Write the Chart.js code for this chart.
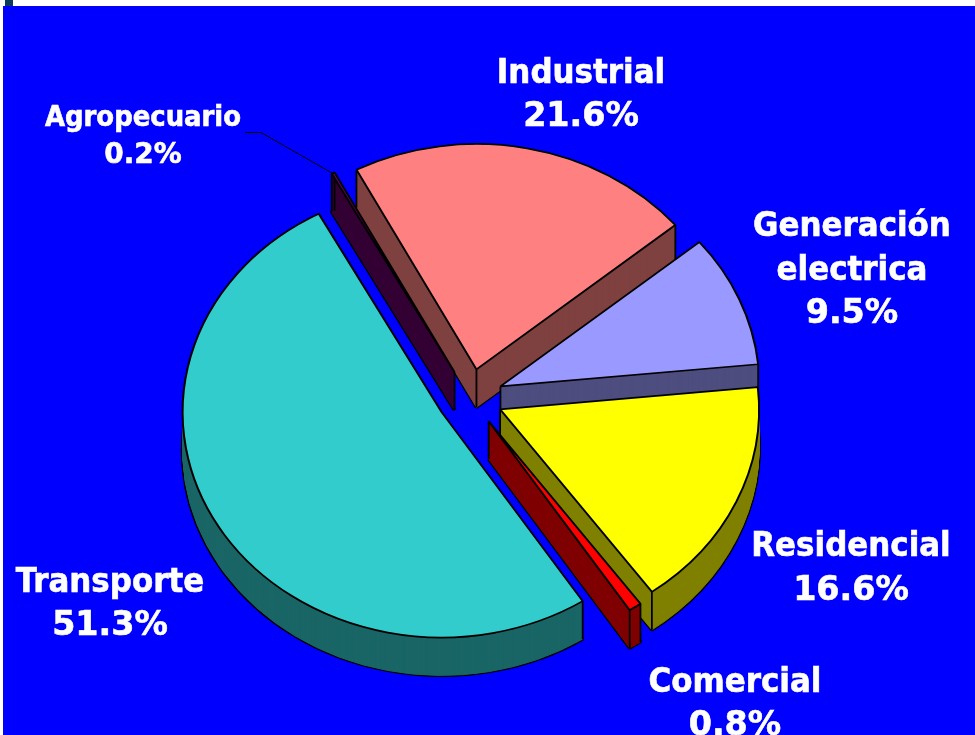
<!DOCTYPE html>
<html>
<head>
<meta charset="utf-8">
<title>Consumo por sector</title>
<script src="https://cdn.jsdelivr.net/npm/chart.js@4/dist/chart.umd.min.js"></script>
<style>
    body { margin: 0; background: #fff; }
    #fondo { position: absolute; left: 3px; top: 6px; width: 972px; height: 729px; background: #0000ff; }
    #marca { position: absolute; left: 5px; top: 0; width: 8px; height: 6px; background: #0b3c5c; }
    #myChart { position: absolute; left: 0; top: 0; }
</style>
</head>
<body>
<div id="fondo"></div>
<div id="marca"></div>
<canvas id="myChart" width="975" height="735"></canvas>
<script>
// data
const sectores = ['Transporte', 'Agropecuario', 'Industrial', 'Generación electrica', 'Residencial', 'Comercial'];
const valores = [51.3, 0.2, 21.6, 9.5, 16.6, 0.8];
const colores = ['#33cccc', '#660066', '#ff8080', '#9999ff', '#ffff00', '#ff0000'];
const coloresLado = ['#1a6666', '#330033', '#804040', '#4d4d80', '#808000', '#800000'];

// look of the fake 3d pie
const aplastar = 0.87;
const profundidad = 38;
const separar = 33;
const ordenLados = [2, 3, 4, 1, 5, 0];

// label anchors: center x, first baseline, line height, font size
const etiquetas = [
    { x: 110, y: 592, alto: 43, size: 34.4, lineas: ['Transporte'] },
    { x: 143, y: 126, alto: 37, size: 28.8, lineas: ['Agropecuario'] },
    { x: 581, y: 83, alto: 43, size: 34.4, lineas: ['Industrial'] },
    { x: 852, y: 236, alto: 43.5, size: 34.4, lineas: ['Generación', 'electrica'] },
    { x: 851, y: 556, alto: 44, size: 34.4, lineas: ['Residencial'] },
    { x: 735, y: 692, alto: 43, size: 34.4, lineas: ['Comercial'] }
];

function conOpciones(arc, extra, fn) {
    const antes = arc.options;
    arc.options = Object.assign(Object.create(antes), extra);
    fn();
    arc.options = antes;
}

const pie3d = {
    id: 'pie3d',
    beforeDatasetsDraw(chart) {
        const ctx = chart.ctx;
        const arcs = chart.getDatasetMeta(0).data;
        const cy = arcs[0].y;

        // screen move dy, then squash, then explode along the slice middle
        const colocar = (arc, dy) => {
            const mitad = (arc.startAngle + arc.endAngle) / 2;
            ctx.translate(0, cy + dy);
            ctx.scale(1, aplastar);
            ctx.translate(0, -cy);
            ctx.translate(Math.cos(mitad) * separar, Math.sin(mitad) * separar);
        };

        ordenLados.forEach(i => {
            const arc = arcs[i];
            // bottom outline, the sweep below hides its inner half
            ctx.save();
            colocar(arc, profundidad);
            conOpciones(arc, { backgroundColor: coloresLado[i], borderWidth: 3.6 }, () => arc.draw(ctx));
            ctx.restore();

            for (let dy = profundidad; dy >= 1; dy--) {
                ctx.save();
                colocar(arc, dy);
                conOpciones(arc, { backgroundColor: coloresLado[i], borderColor: coloresLado[i], borderWidth: 1 }, () => arc.draw(ctx));
                ctx.restore();
            }

            // vertical edges
            const puntos = [
                [arc.x, arc.y],
                [arc.x + Math.cos(arc.startAngle) * arc.outerRadius, arc.y + Math.sin(arc.startAngle) * arc.outerRadius],
                [arc.x + Math.cos(arc.endAngle) * arc.outerRadius, arc.y + Math.sin(arc.endAngle) * arc.outerRadius]
            ];
            const mitad = (arc.startAngle + arc.endAngle) / 2;
            const ox = Math.cos(mitad) * separar;
            const oy = Math.sin(mitad) * separar;
            ctx.strokeStyle = '#000';
            ctx.lineWidth = 1.8;
            puntos.forEach(p => {
                const sx = p[0] + ox;
                const sy = cy + (p[1] + oy - cy) * aplastar;
                ctx.beginPath();
                ctx.moveTo(sx, sy);
                ctx.lineTo(sx, sy + profundidad);
                ctx.stroke();
            });
        });

        // top faces
        arcs.forEach(arc => {
            ctx.save();
            colocar(arc, 0);
            arc.draw(ctx);
            ctx.restore();
        });
        return false;
    },
    afterDraw(chart) {
        const ctx = chart.ctx;
        // leader line for Agropecuario
        ctx.save();
        ctx.strokeStyle = '#000';
        ctx.lineWidth = 1;
        ctx.beginPath();
        ctx.moveTo(245, 132.5);
        ctx.lineTo(261, 132.5);
        ctx.lineTo(332, 173);
        ctx.stroke();

        ctx.fillStyle = '#fff';
        ctx.strokeStyle = '#fff';
        ctx.lineWidth = 0.6;
        ctx.textAlign = 'center';
        ctx.textBaseline = 'alphabetic';
        const escribir = (t, x, y) => {
            ctx.fillText(t, x, y);
            ctx.strokeText(t, x, y);
        };
        etiquetas.forEach((e, i) => {
            ctx.font = 'bold ' + e.size + 'px "DejaVu Sans Condensed", "DejaVu Sans"';
            ctx.fontStretch = 'condensed';
            e.lineas.forEach((t, n) => escribir(t, e.x, e.y + n * e.alto));
            // percent line is wider in the original
            ctx.font = 'bold ' + (e.size * 0.97) + 'px "DejaVu Sans"';
            ctx.fontStretch = 'normal';
            escribir(valores[i].toFixed(1) + '%', e.x, e.y + e.lineas.length * e.alto);
        });
        ctx.restore();
    }
};

const ctx_pie = document.getElementById('myChart').getContext('2d');
const myChart_pie = new Chart(ctx_pie, {
    type: 'pie',
    data: {
        labels: sectores,
        datasets: [{
            data: valores,
            backgroundColor: colores,
            borderColor: '#000',
            borderWidth: 2,
            borderAlign: 'center',
            radius: 259
        }]
    },
    options: {
        responsive: false,
        animation: false,
        rotation: 147,
        layout: { padding: { left: 0, right: 35, top: 60, bottom: 0 } },
        plugins: { legend: { display: false }, tooltip: { enabled: false } }
    },
    plugins: [pie3d]
});
</script>
</body>
</html>
